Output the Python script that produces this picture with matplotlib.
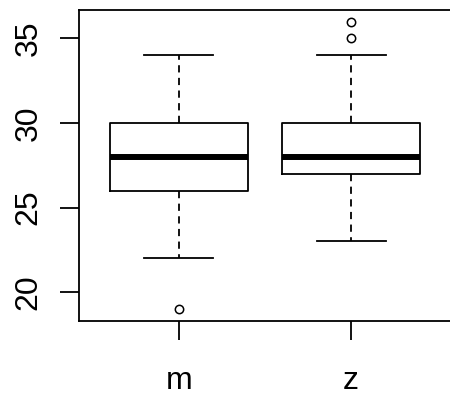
import matplotlib.pyplot as plt

plt.rcParams['font.family'] = ['Liberation Sans', 'DejaVu Sans']

# boxplot summary stats
groups = ['m', 'z']
whislo = [22, 23]
q1 = [26, 27]
med = [28, 28]
q3 = [30, 30]
whishi = [34, 34]
fliers = [[19], [35, 36]]

stats = []
for i, g in enumerate(groups):
    stats.append(dict(label=g, whislo=whislo[i], q1=q1[i], med=med[i],
                      q3=q3[i], whishi=whishi[i], fliers=fliers[i]))

fig = plt.figure(figsize=(4.5, 3.96), dpi=100)
ax = fig.add_axes([79 / 450, 1 - 320.5 / 396, 372 / 450, 310.5 / 396])

ax.bxp(stats, positions=[1, 2], widths=0.8, patch_artist=False,
       boxprops=dict(color='black', linewidth=1.3),
       medianprops=dict(color='black', linewidth=4.3, solid_capstyle='butt'),
       whiskerprops=dict(color='black', linewidth=1.3, linestyle=(0, (4, 3))),
       capprops=dict(color='black', linewidth=1.3),
       capwidths=0.4,
       flierprops=dict(marker='o', markersize=6, markerfacecolor='none',
                       markeredgecolor='black', markeredgewidth=1.1))

ax.set_xlim(0.42, 2.58)
ax.set_ylim(18.32, 36.68)
ax.set_yticks([20, 25, 30, 35])
ax.set_xticks([1, 2])
ax.set_xticklabels(groups)
ax.tick_params(axis='both', length=13.7, width=1.3, labelsize=23, colors='black')
ax.tick_params(axis='x', pad=19)
ax.tick_params(axis='y', pad=12)
for lab in ax.get_yticklabels():
    lab.set_rotation(90)
    lab.set_va('center')
for s in ['left', 'top', 'bottom']:
    ax.spines[s].set_linewidth(1.3)
ax.spines['right'].set_visible(False)

fig.savefig('out.png', dpi=100)
